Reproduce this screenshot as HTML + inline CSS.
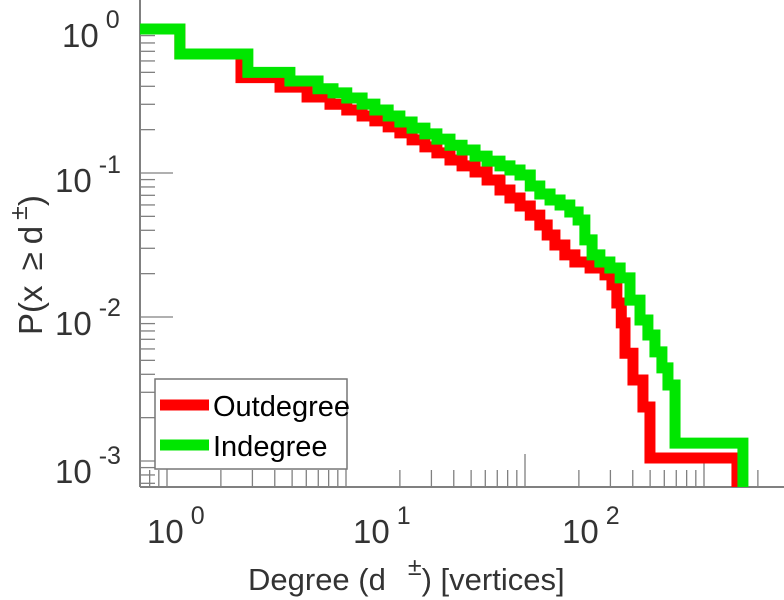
<!DOCTYPE html>
<html><head><meta charset="utf-8"><style>
html,body{margin:0;padding:0;background:#fff;}
svg{display:block;font-family:"Liberation Sans",sans-serif;}
</style></head><body>
<svg id="chart" width="784" height="600" viewBox="0 0 784 600" xmlns="http://www.w3.org/2000/svg">
<g id="axes"></g>
<g id="series"></g>
<g id="labels">
  <text x="147" y="543" font-size="33" fill="#333">10<tspan font-size="25" dx="7" dy="-19">0</tspan></text>
  <text x="353" y="543" font-size="33" fill="#333">10<tspan font-size="25" dx="7" dy="-19">1</tspan></text>
  <text x="562" y="543" font-size="33" fill="#333">10<tspan font-size="25" dx="7" dy="-19">2</tspan></text>
  <text x="62" y="47" font-size="33" fill="#333">10<tspan font-size="25" dx="7" dy="-19">0</tspan></text>
  <text x="55" y="192" font-size="33" fill="#333">10<tspan font-size="25" dx="7" dy="-19">-1</tspan></text>
  <text x="55" y="335" font-size="33" fill="#333">10<tspan font-size="25" dx="7" dy="-19">-2</tspan></text>
  <text x="55" y="483" font-size="33" fill="#333">10<tspan font-size="25" dx="7" dy="-19">-3</tspan></text>
  <text x="248" y="590" font-size="31" fill="#333">Degree (d<tspan dx="22" dy="-15" font-size="25">±</tspan><tspan dy="15">) [vertices]</tspan></text>
  <text transform="translate(42,335) rotate(-90)" font-size="33" fill="#333">P(x <tspan dx="6">≥</tspan><tspan dx="8">d</tspan><tspan dx="6" dy="-15" font-size="25">±</tspan><tspan dy="15">)</tspan></text>
</g>
<g id="legend">
  <rect x="155" y="379" width="192" height="90" fill="#fff" stroke="#777" stroke-width="1.5"/>
  <line x1="160" y1="405" x2="209" y2="405" stroke="#ff0000" stroke-width="11"/>
  <text x="213" y="416" font-size="29" fill="#000">Outdegree</text>
  <line x1="160" y1="445" x2="209" y2="445" stroke="#00e600" stroke-width="11"/>
  <text x="213" y="456" font-size="29" fill="#000">Indegree</text>
</g>
</svg>
<script>
const outDegrees = [0.71,1.18,2.59,4.28,6.06,8.14,10.1,12.3,14.5,17.2,20.0,23.4,27.6,32.2,38.1,44.5,52.6,61.4,72.5,82.4,93.8,107,121,133,147,167,190,231,280,306,326,345,362,401,456,499];
const outProbs   = [1.0,0.67,0.46,0.395,0.337,0.30,0.274,0.249,0.230,0.209,0.190,0.170,0.152,0.138,0.123,0.112,0.1016,0.0894,0.0762,0.067,0.059,0.051,0.0435,0.0371,0.0316,0.027,0.0241,0.0219,0.0196,0.0167,0.0125,0.0091,0.0056,0.00365,0.00237,0.00105];
const outMaxDegree = 1528;
const inDegrees = [0.71,1.18,2.83,4.86,6.98,8.46,10.1,12.3,14.5,17.2,20.0,23.4,27.6,32.2,38.1,44.5,52.6,61.4,72.5,82.4,93.8,107,121,138,157,178,198,216,237,262,298,340,386,439,486,532,582,629,689];
const inProbs   = [1.0,0.67,0.50,0.435,0.385,0.36,0.332,0.301,0.274,0.249,0.226,0.205,0.187,0.172,0.156,0.1445,0.131,0.121,0.112,0.105,0.0968,0.0813,0.0715,0.065,0.060,0.0536,0.0472,0.0343,0.027,0.0241,0.0219,0.0187,0.0131,0.00953,0.0075,0.00572,0.00443,0.00337,0.00133];
const inMaxDegree = 1650;
const yDecades = [0,-1,-2,-3];
const xDecades = [0,1,2,3];

const NS='http://www.w3.org/2000/svg';
const X0=167, XD=179, Y0=29, YD=144, LEFT=140, BOTTOM=487, RIGHT=784, TOP=0;
function xs(d){return X0+XD*Math.log10(d);}
function ys(p){return Y0-YD*Math.log10(p);}
const axes=document.getElementById('axes');
function ln(x1,y1,x2,y2,w,name){
  const l=document.createElementNS(NS,'line');
  l.setAttribute('x1',x1);l.setAttribute('y1',y1);l.setAttribute('x2',x2);l.setAttribute('y2',y2);
  l.setAttribute('stroke','#808080');l.setAttribute('stroke-width',w);
  
  
  axes.appendChild(l);
}
ln(LEFT,TOP,LEFT,BOTTOM,2,'y-axis-line');
ln(LEFT,BOTTOM,RIGHT,BOTTOM,2,'x-axis-line');
yDecades.forEach(e=>{
  const y=ys(Math.pow(10,e));
  ln(LEFT,y,LEFT+33,y,1.3,'y-major-tick');
  for(let k=2;k<=9;k++){
    const yy=ys(k*Math.pow(10,e-1));
    if(yy>TOP && yy<BOTTOM) ln(LEFT,yy,LEFT+15,yy,1.3,'y-minor-tick');
  }
});
for(let k=2;k<=9;k++){const yy=ys(k);if(yy>TOP)ln(LEFT,yy,LEFT+15,yy,1.3,'y-minor-tick');}
xDecades.forEach(e=>{
  const x=xs(Math.pow(10,e));
  if(x>LEFT && x<RIGHT) ln(x,BOTTOM,x,BOTTOM-33,1.3,'x-major-tick');
});
[-1,0,1,2,3].forEach(e=>{
  for(let k=2;k<=9;k++){const x=xs(k*Math.pow(10,e));if(x>LEFT&&x<RIGHT)ln(x,BOTTOM,x,BOTTOM-17,1.3,'x-minor-tick');}
});
const series=document.getElementById('series');
function stairs(ds,ps,dmax,color,name){
  let d='M'+LEFT+','+ys(ps[0]);
  for(let i=0;i<ds.length;i++){
    const xe=xs(i+1<ds.length?ds[i+1]:dmax);
    d+=' H'+xe;
    d+=' V'+(i+1<ds.length?ys(ps[i+1]):BOTTOM);
  }
  const p=document.createElementNS(NS,'path');
  p.setAttribute('d',d);p.setAttribute('fill','none');p.setAttribute('stroke',color);
  p.setAttribute('stroke-width','11');p.setAttribute('stroke-linejoin','miter');
  
  
  series.appendChild(p);
}
stairs(outDegrees,outProbs,outMaxDegree,'#ff0000','outdegree-line');
stairs(inDegrees,inProbs,inMaxDegree,'#00e600','indegree-line');
</script>
</body></html>
